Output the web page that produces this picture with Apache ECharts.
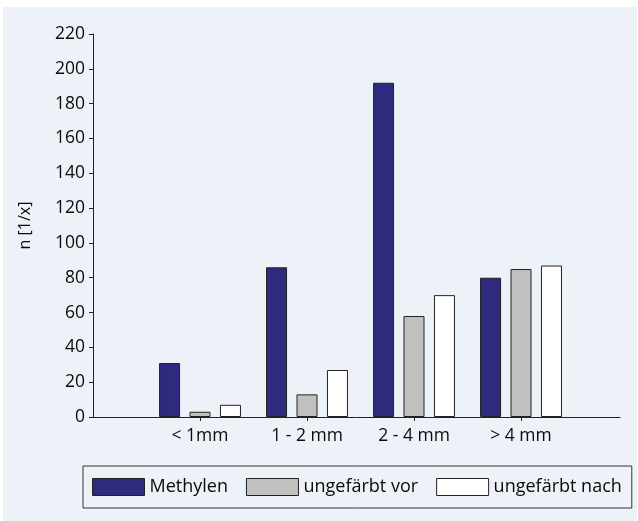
<!DOCTYPE html>
<html>
<head>
<meta charset="utf-8">
<style>
  html, body { margin: 0; padding: 0; background: #ffffff; }
  #chart { width: 638px; height: 521px; }
</style>
<script src="https://cdn.jsdelivr.net/npm/echarts@6/dist/echarts.min.js"></script>
</head>
<body>
<div id="chart"></div>
<script>
// Particle size classes and counts per staining state
const categories = ['< 1mm', '1 - 2 mm', '2 - 4 mm', '> 4 mm'];
const methylen = [31, 86, 192, 80];
const ungefaerbtVor = [3, 13, 58, 85];
const ungefaerbtNach = [7, 27, 70, 87];
const seriesNames = ['Methylen', 'ungefärbt vor', 'ungefärbt nach'];
const seriesColors = ['#2e2a7d', '#c0c0c0', '#ffffff'];
const yTicks = { min: 0, max: 220, step: 20 };

const FONT = 'Open Sans';
const TEXT_COLOR = '#0a0a0a';
const positions = categories.map((c, i) => i + 1);

function toPoints(values) {
  return values.map((v, i) => [positions[i], v]);
}

const chart = echarts.init(document.getElementById('chart'), null, { renderer: 'canvas' });

const seriesData = [methylen, ungefaerbtVor, ungefaerbtNach];

chart.setOption({
  animation: false,
  backgroundColor: '#ffffff',
  graphic: [{
    type: 'rect',
    z: -10,
    shape: { x: 3, y: 7, width: 634, height: 514 },
    style: { fill: '#edf1f8' }
  }],
  textStyle: { fontFamily: FONT },
  grid: { left: 93, right: 18, top: 34, bottom: 104, containLabel: false },
  legend: {
    left: 83,
    top: 466,
    width: 560,
    orient: 'horizontal',
    padding: [12, 10, 12, 9],
    borderColor: '#333333',
    borderWidth: 1,
    itemWidth: 52,
    itemHeight: 17,
    itemGap: 18,
    icon: 'rect',
    textStyle: { fontFamily: FONT, fontSize: 18, color: TEXT_COLOR },
    data: seriesNames.map((n, i) => ({
      name: n,
      itemStyle: { color: seriesColors[i], borderColor: '#222222', borderWidth: 1 }
    }))
  },
  xAxis: {
    type: 'value',
    min: 0,
    max: 4.925,
    interval: 1,
    splitLine: { show: false },
    axisLine: { show: true, onZero: false, lineStyle: { color: '#222222', width: 1 } },
    axisTick: {
      show: true,
      length: 4,
      customValues: positions,
      lineStyle: { color: '#222222' }
    },
    axisLabel: {
      show: true,
      customValues: positions,
      margin: 10,
      fontFamily: FONT,
      fontSize: 17.5,
      color: TEXT_COLOR,
      formatter: v => categories[Math.round(v) - 1] || ''
    }
  },
  yAxis: {
    type: 'value',
    min: yTicks.min,
    max: yTicks.max,
    interval: yTicks.step,
    name: 'n [1/x]',
    nameLocation: 'middle',
    nameGap: 60,
    nameTextStyle: { fontFamily: FONT, fontSize: 16, color: TEXT_COLOR },
    splitLine: { show: false },
    axisLine: { show: true, lineStyle: { color: '#222222', width: 1 } },
    axisTick: { show: true, length: 4, lineStyle: { color: '#222222' } },
    axisLabel: { margin: 8, fontFamily: FONT, fontSize: 17.5, color: TEXT_COLOR }
  },
  series: seriesNames.map((n, i) => ({
    name: n,
    type: 'bar',
    data: toPoints(seriesData[i]),
    barWidth: 21,
    barGap: '45%',
    itemStyle: { color: seriesColors[i], borderColor: '#222222', borderWidth: 1 }
  }))
});
</script>
</body>
</html>
